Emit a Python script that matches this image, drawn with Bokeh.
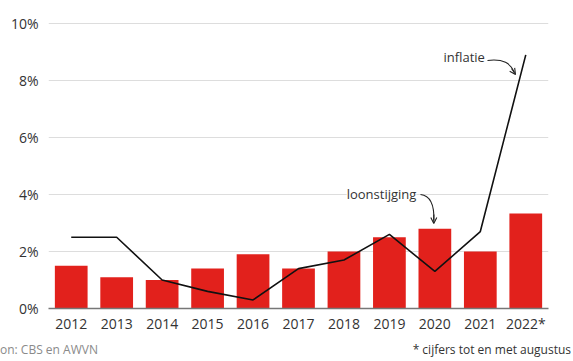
from bokeh.plotting import figure
from bokeh.layouts import column
from bokeh.models import (Range1d, FixedTicker, PrintfTickFormatter, Label, Arrow,
                          OpenHead, ColumnDataSource, Div)
from bokeh.embed import file_html
from bokeh.resources import INLINE

years = [2012, 2013, 2014, 2015, 2016, 2017, 2018, 2019, 2020, 2021, 2022]
year_labels = ["2012", "2013", "2014", "2015", "2016", "2017", "2018", "2019", "2020", "2021", "2022*"]
loonstijging = [1.5, 1.1, 1.0, 1.4, 1.9, 1.4, 2.0, 2.5, 2.8, 2.0, 3.33]
inflatie = [2.5, 2.5, 1.0, 0.6, 0.3, 1.4, 1.7, 2.6, 1.3, 2.7, 8.9]
y_ticks = [0, 2, 4, 6, 8, 10]

FONT = "Open Sans"
RED = "#e2211c"
TXT = "#333333"

p = figure(width=573, height=335, output_backend="svg", toolbar_location=None,
           x_range=Range1d(2011.5, 2022.5), y_range=Range1d(0, 10.28),
           min_border_left=48, min_border_right=25, min_border_top=15, min_border_bottom=27)
p.outline_line_color = None
p.background_fill_color = "white"
p.border_fill_color = "white"

src = ColumnDataSource(dict(x=years, loon=loonstijging, infl=inflatie))
p.vbar(x="x", top="loon", width=0.72, bottom=0, source=src, color=RED, line_color=None)
p.line(x="x", y="infl", source=src, line_color="#111111", line_width=1.6)

# axes
p.xaxis.ticker = FixedTicker(ticks=years)
p.xaxis.major_label_overrides = {y: l for y, l in zip(years, year_labels)}
p.xaxis.axis_line_color = "#777777"
p.xaxis.axis_line_width = 1.5
p.xaxis.major_tick_line_color = None
p.xaxis.minor_tick_line_color = None
p.xaxis.major_tick_out = 0
p.xaxis.major_tick_in = 0
p.xaxis.minor_tick_out = 0
p.xaxis.major_label_text_font = FONT
p.xaxis.major_label_text_font_size = "14px"
p.xaxis.major_label_text_color = TXT
p.xaxis.major_label_standoff = 5

p.yaxis.ticker = FixedTicker(ticks=y_ticks)
p.yaxis.formatter = PrintfTickFormatter(format="%d%%")
p.yaxis.axis_line_color = None
p.yaxis.major_tick_line_color = None
p.yaxis.minor_tick_line_color = None
p.yaxis.major_tick_out = 0
p.yaxis.major_tick_in = 0
p.yaxis.minor_tick_out = 0
p.yaxis.major_label_text_font = FONT
p.yaxis.major_label_text_font_size = "14px"
p.yaxis.major_label_text_color = TXT
p.yaxis.major_label_standoff = 10

p.xgrid.grid_line_color = None
p.ygrid.ticker = FixedTicker(ticks=y_ticks[1:])
p.ygrid.grid_line_color = "#dddddd"
p.ygrid.grid_line_width = 1

# annotations
p.add_layout(Label(x=2020.19, y=8.84, text="inflatie", text_font=FONT, text_font_size="13px",
                   text_color=TXT, text_baseline="middle",
                   background_fill_color="white"))
p.add_layout(Label(x=2018.06, y=4.0, text="loonstijging", text_font=FONT, text_font_size="13px",
                   text_color=TXT, text_baseline="middle",
                   background_fill_color="white"))


def px(xp):
    return 2011.5 + (xp - 48) / (500 / 11)


def py(yp):
    return (308 - yp) / 28.5


# inflatie arrow
p.bezier(x0=[px(487)], y0=[py(60)], x1=[px(514)], y1=[py(72)],
         cx0=[px(503)], cy0=[py(58)], cx1=[px(510)], cy1=[py(63)],
         line_color="#222222", line_width=1.1)
p.add_layout(Arrow(end=OpenHead(size=6, line_width=1.1, line_color="#222222"),
                   x_start=px(511), y_start=py(68), x_end=px(515), y_end=py(74),
                   line_color="#222222", line_width=1.1))

# loonstijging arrow
p.bezier(x0=[px(420)], y0=[py(194)], x1=[px(433.3)], y1=[py(220)],
         cx0=[px(429)], cy0=[py(195)], cx1=[px(434)], cy1=[py(203)],
         line_color="#222222", line_width=1.1)
p.add_layout(Arrow(end=OpenHead(size=6, line_width=1.1, line_color="#222222"),
                   x_start=px(433.3), y_start=py(214), x_end=px(433.3), y_end=py(223),
                   line_color="#222222", line_width=1.1))

# footer
footer = Div(
    text=('<div style="display:flex;justify-content:space-between;width:571px;'
          'margin:0;padding-top:7px;line-height:16px;font-family:\'Open Sans\';font-size:12px;">'
          '<span style="color:#8a8a8a;">on: CBS en AWVN</span>'
          '<span style="color:#333333;">* cijfers tot en met augustus</span></div>'),
    width=573, height=26, margin=0)

layout = column(p, footer, spacing=0)
open("out.html", "w").write(file_html(layout, INLINE))
